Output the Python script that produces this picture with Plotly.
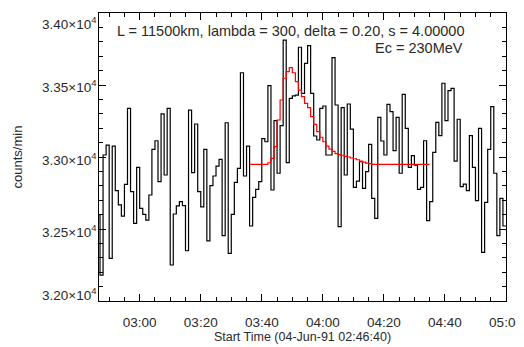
import plotly.graph_objects as go
import pandas as pd

# Observed counts, 1-minute bins starting 02:46 (04-Jun-1991)
data_start = "1991-06-04 02:46:00"
counts = [
    32600, 32180, 33014, 33083, 32296, 33076, 32766, 32667, 32590, 32810,   # 02:46-02:55
    33338, 32759, 32539, 32928, 32643, 32602, 32562, 32736, 33053, 33113,   # 02:56-03:05
    32829, 33299, 32875, 33338, 32250, 32604, 32660, 32690, 32662, 32349,   # 03:06-03:15
    33326, 32891, 33229, 32759, 32653, 33053, 32417, 32801, 32868, 32937,   # 03:16-03:25
    32984, 32454, 33238, 32331, 32602, 32824, 32921, 33585, 32868, 33076,   # 03:26-03:35
    32521, 32720, 32775, 32829, 33127, 33106, 33495, 32771, 33252, 32887,   # 03:36-03:45
    33218, 33812, 32961, 33407, 33424, 33430, 33762, 33442, 33650, 33773,   # 03:46-03:55
    33442, 33146, 33118, 33338, 33354, 33014, 33014, 33690, 33361, 32516,   # 03:56-04:05
    33343, 32875, 33368, 33194, 32789, 32833, 32967, 32782, 32898, 33088,   # 04:06-04:15
    32713, 32574, 33275, 33111, 33014, 33366, 33315, 33044, 33275, 32887,   # 04:16-04:25
    33435, 33199, 32928, 33009, 32944, 32775, 32789, 33113, 32558, 32690,   # 04:26-04:35
    33032, 33241, 33148, 33512, 33252, 33461, 33477, 32972, 33262, 32794,   # 04:36-04:45
    32812, 32766, 33148, 32928, 32697, 33199, 32338, 32685, 33053, 33350,   # 04:46-04:55
    32887, 32454, 32713, 32521,                                             # 04:56-04:59
]

# Model fit (red), 1-minute bins starting 03:36
model_start = "1991-06-04 03:36:00"
model = [
    32949, 32949, 32949, 32949, 32949, 32949, 32960, 32991, 33072, 33257,   # 03:36-03:45
    33396, 33547, 33593, 33620, 33585, 33523, 33465, 33419, 33373, 33343,   # 03:46-03:55
    33280, 33227, 33176, 33137, 33106, 33076, 33055, 33039, 33023, 33016,   # 03:56-04:05
    33012, 33005, 33000, 32993, 32988, 32981, 32972, 32965, 32958, 32954,   # 04:06-04:15
    32949, 32949, 32949, 32949, 32949, 32949, 32949, 32949, 32949, 32949,   # 04:16-04:25
    32949, 32949, 32949, 32949, 32949, 32949, 32949, 32949, 32949,          # 04:26-04:34
]

y_tickvals = [32000, 32500, 33000, 33500, 34000]
y_ticktext = ["3.20×10<sup>4</sup>", "3.25×10<sup>4</sup>", "3.30×10<sup>4</sup>",
              "3.35×10<sup>4</sup>", "3.40×10<sup>4</sup>"]
y_label_shift = [7, -2, -2, -1, -10]   # px nudges of the labels, as in the original

x_range = ["1991-06-04 02:46:40", "1991-06-04 05:00:00"]
annot_main = "L = 11500km, lambda = 300, delta = 0.20, s = 4.00000"
annot_ec = "Ec = 230MeV"
x_title = "Start Time (04-Jun-91 02:46:40)"
y_title = "counts/min"


def step_xy(start, values):
    t = pd.date_range(start, periods=len(values) + 1, freq="1min")
    return list(t), list(values) + [values[-1]]


cx, cy = step_xy(data_start, counts)
mx, my = step_xy(model_start, model)

TXT = "#2a2a2a"
FONT = "Liberation Sans, Arial, Helvetica, sans-serif"

fig = go.Figure()
fig.add_trace(go.Scatter(x=cx, y=cy, mode="lines", line=dict(color="black", width=1.2, shape="hv"),
                         showlegend=False, hoverinfo="skip"))
fig.add_trace(go.Scatter(x=mx, y=my, mode="lines", line=dict(color="#ff0000", width=1.2, shape="hv"),
                         showlegend=False, hoverinfo="skip"))

# page body has an 8px default margin: figure is sized/offset to compensate
fig.update_layout(
    width=516, height=339,
    margin=dict(l=91, r=18, t=5, b=46),
    paper_bgcolor="white", plot_bgcolor="white",
    font=dict(family=FONT, color=TXT, size=13),
    showlegend=False,
)

fig.update_xaxes(
    type="date", range=x_range,
    tick0="1991-06-04 03:00:00", dtick=20 * 60 * 1000, tickformat="%H:%M",
    ticks="inside", ticklen=7, tickwidth=1, tickcolor="black",
    minor=dict(dtick=5 * 60 * 1000, ticks="inside", ticklen=4, tickcolor="black", tickwidth=1),
    showline=True, linecolor="black", linewidth=1, mirror="ticks",
    showgrid=False, zeroline=False,
    tickfont=dict(size=13.5, color=TXT), ticklabelstandoff=9,
    title=dict(text=x_title, font=dict(size=12.5, color=TXT), standoff=0),
    automargin=False,
)
fig.update_yaxes(
    range=[32000, 34000], tickvals=y_tickvals, ticktext=y_ticktext,
    showticklabels=False,
    ticks="inside", ticklen=7, tickwidth=1, tickcolor="black",
    minor=dict(dtick=100, ticks="inside", ticklen=4, tickcolor="black", tickwidth=1),
    showline=True, linecolor="black", linewidth=1, mirror="ticks",
    showgrid=False, zeroline=False,
    title=dict(text=y_title, font=dict(size=13, color=TXT), standoff=72),
    automargin=False,
)

for v, t, s in zip(y_tickvals, y_ticktext, y_label_shift):
    fig.add_annotation(xref="paper", yref="y", x=0, y=v, xanchor="right", yanchor="middle",
                       xshift=-1, yshift=s, text=t, showarrow=False,
                       font=dict(size=13.5, color=TXT))

fig.add_annotation(xref="paper", yref="paper", x=0.039, y=0.9375, xanchor="left", yanchor="middle",
                   text=annot_main, showarrow=False, font=dict(size=14.5, color=TXT))
fig.add_annotation(xref="paper", yref="paper", x=0.899, y=0.878, xanchor="right", yanchor="middle",
                   text=annot_ec, showarrow=False, font=dict(size=14.5, color=TXT))

fig.write_html("out.html")
